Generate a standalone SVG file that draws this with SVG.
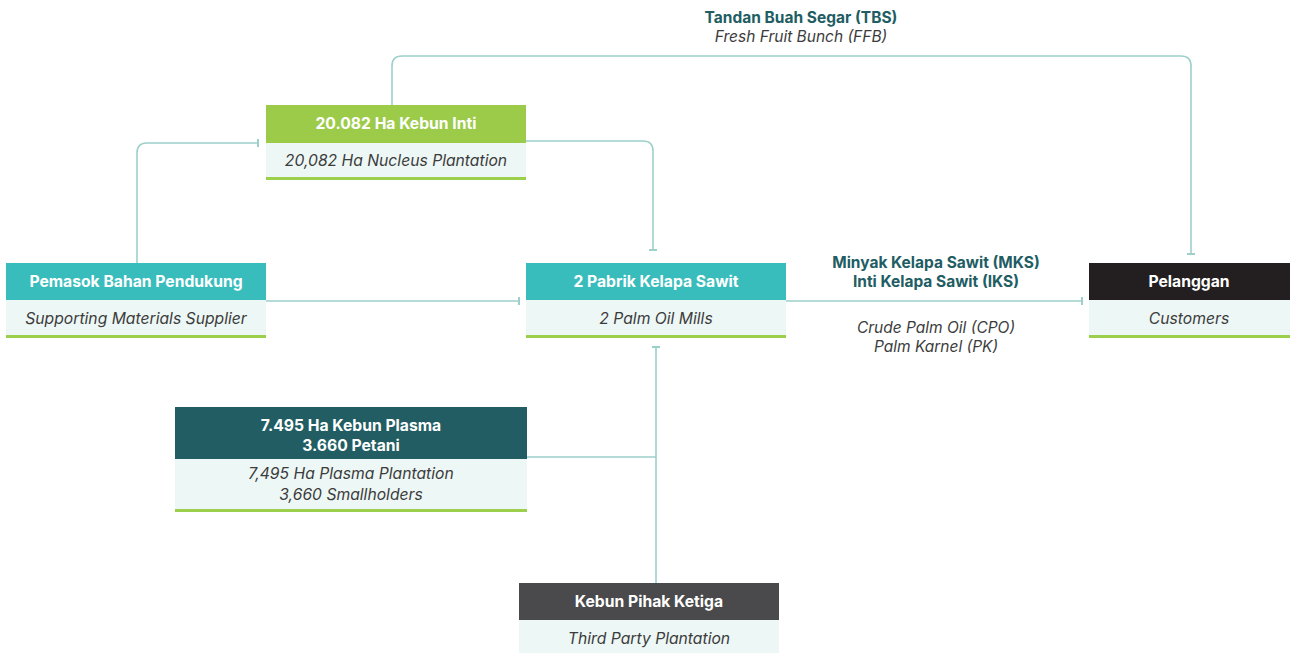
<svg xmlns="http://www.w3.org/2000/svg" width="1290" height="653" viewBox="0 0 1290 653">
<style>
.h{font-family:Inter,"Open Sans",sans-serif;font-size:15.7px;font-weight:700;fill:#ffffff;text-anchor:middle}
.b{font-family:Inter,"Open Sans",sans-serif;font-size:15.7px;font-style:italic;fill:#3c3c3c;text-anchor:middle}
.lb{font-family:Inter,"Open Sans",sans-serif;font-size:15.5px;font-weight:700;fill:#215d63;text-anchor:middle}
.li{font-family:Inter,"Open Sans",sans-serif;font-size:15.5px;font-style:italic;fill:#3c3c3c;text-anchor:middle}
.body{fill:#edf7f5}
.gl{fill:#9ccf4c}
.c{fill:none;stroke:#9dcfcb;stroke-width:1.6}
</style>
<defs>
<marker id="tk" viewBox="-1 -5 2 10" markerWidth="2" markerHeight="10" markerUnits="userSpaceOnUse" orient="auto" refX="0" refY="0">
<line x1="0" y1="-4" x2="0" y2="4" stroke="#9dcfcb" stroke-width="2"/>
</marker>
</defs>
<rect width="1290" height="653" fill="#ffffff"/>
<g id="connectors">
<path class="c" d="M392,105 V66 Q392,56 402,56 H1181 Q1191,56 1191,66 V254" marker-end="url(#tk)"/>
<path class="c" d="M526,141 H643 Q653,141 653,151 V250" marker-end="url(#tk)"/>
<path class="c" d="M137,263 V153 Q137,143 147,143 H258" marker-end="url(#tk)"/>
<path class="c" d="M266,301 H519" marker-end="url(#tk)"/>
<path class="c" d="M786,301 H1082" marker-end="url(#tk)"/>
<path class="c" d="M656,583 V347" marker-end="url(#tk)"/>
<path class="c" d="M527,457 H656"/>
</g>
<g id="labels">
<text class="lb" x="801" y="23">Tandan Buah Segar (TBS)</text>
<text class="li" x="801" y="42">Fresh Fruit Bunch (FFB)</text>
<text class="lb" x="936" y="268">Minyak Kelapa Sawit (MKS)</text>
<text class="lb" x="936" y="287">Inti Kelapa Sawit (IKS)</text>
<text class="li" x="936" y="333">Crude Palm Oil (CPO)</text>
<text class="li" x="936" y="352">Palm Karnel (PK)</text>
</g>
<g id="inti">
<rect x="266" y="105" width="260" height="38" fill="#9ccb4a"/>
<rect class="body" x="266" y="143" width="260" height="35"/>
<rect class="gl" x="266" y="177" width="260" height="3"/>
<text class="h" x="396" y="129">20.082 Ha Kebun Inti</text>
<text class="b" x="396" y="166">20,082 Ha Nucleus Plantation</text>
</g>
<g id="pemasok">
<rect x="6" y="263" width="260" height="37" fill="#38bdbc"/>
<rect class="body" x="6" y="300" width="260" height="36"/>
<rect class="gl" x="6" y="335" width="260" height="3"/>
<text class="h" x="136" y="287">Pemasok Bahan Pendukung</text>
<text class="b" x="136" y="324">Supporting Materials Supplier</text>
</g>
<g id="pabrik">
<rect x="526" y="263" width="260" height="37" fill="#38bdbc"/>
<rect class="body" x="526" y="300" width="260" height="36"/>
<rect class="gl" x="526" y="335" width="260" height="3"/>
<text class="h" x="656" y="287">2 Pabrik Kelapa Sawit</text>
<text class="b" x="656" y="324">2 Palm Oil Mills</text>
</g>
<g id="pelanggan">
<rect x="1089" y="263" width="201" height="37" fill="#231f20"/>
<rect class="body" x="1089" y="300" width="201" height="36"/>
<rect class="gl" x="1089" y="335" width="201" height="3"/>
<text class="h" x="1189" y="287">Pelanggan</text>
<text class="b" x="1189" y="324">Customers</text>
</g>
<g id="plasma">
<rect x="175" y="407" width="352" height="52" fill="#215d63"/>
<rect class="body" x="175" y="459" width="352" height="51"/>
<rect class="gl" x="175" y="509" width="352" height="3"/>
<text class="h" x="351" y="431">7.495 Ha Kebun Plasma</text>
<text class="h" x="351" y="451">3.660 Petani</text>
<text class="b" x="351" y="479">7,495 Ha Plasma Plantation</text>
<text class="b" x="351" y="500">3,660 Smallholders</text>
</g>
<g id="pihak">
<rect x="519" y="583" width="260" height="37" fill="#4a4a4c"/>
<rect class="body" x="519" y="620" width="260" height="33"/>
<text class="h" x="649" y="607">Kebun Pihak Ketiga</text>
<text class="b" x="649" y="644">Third Party Plantation</text>
</g>
</svg>
